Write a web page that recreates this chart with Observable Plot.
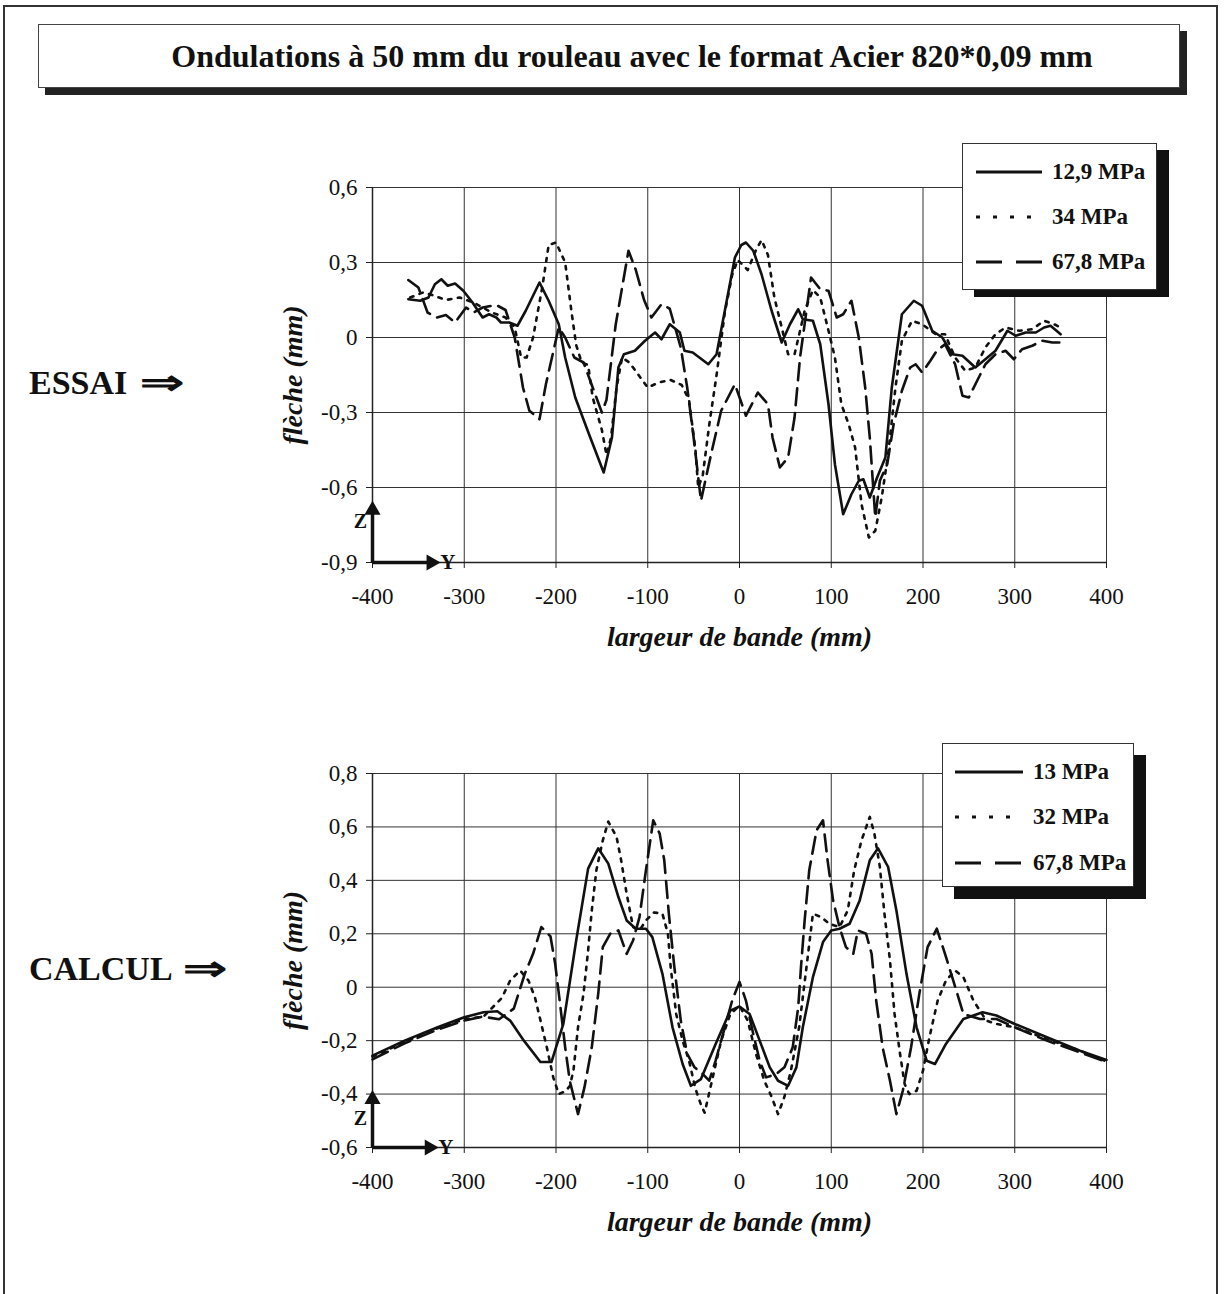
<!DOCTYPE html>
<html>
<head>
<meta charset="utf-8">
<script src="https://cdn.jsdelivr.net/npm/d3@7"></script>
<script src="https://cdn.jsdelivr.net/npm/@observablehq/plot@0.6"></script>
<style>
  html, body { margin: 0; padding: 0; background: #fff; }
  #page { position: relative; width: 1227px; height: 1294px; overflow: hidden; font-family: "Liberation Serif", "Times New Roman", serif; color: #111; }
  #outer { position: absolute; left: 3px; top: 5px; width: 1215px; height: 1320px; border: 2px solid #333; box-sizing: border-box; }
  #titlebox { position: absolute; left: 38px; top: 24px; width: 1142px; height: 64px; border: 1.5px solid #444; box-sizing: border-box; background: #fff; box-shadow: 7px 7px 0 #222; display: flex; align-items: center; justify-content: center; padding-left: 46px; font-weight: bold; font-size: 32px; }
  .side { position: absolute; left: 29px; font-weight: bold; font-size: 34px; white-space: nowrap; }
  .side .arr { display: inline-block; transform: scaleX(1.55); transform-origin: left center; margin-left: 4px; }
  .chart { position: absolute; left: 272px; }
  .legend { position: absolute; background: #fff; border: 1.5px solid #333; box-sizing: border-box; }
  .legend .row { position: absolute; left: 0; height: 30px; display: flex; align-items: center; font-weight: bold; font-size: 23px; white-space: nowrap; }
  .legend svg { display: block; margin-right: 10px; }
</style>
</head>
<body>
<div id="page">
  <div id="outer"></div>
  <div id="titlebox">Ondulations à 50 mm du rouleau avec le format Acier 820*0,09 mm</div>
  <div class="side" style="top:362px">ESSAI <span class="arr">⇒</span></div>
  <div class="side" style="top:948px">CALCUL <span class="arr">⇒</span></div>
  <div id="chartTop" class="chart" style="top:167px"></div>
  <div id="chartBottom" class="chart" style="top:753px"></div>
</div>
<script>
// ---------- tick labels ----------
const xTicks = [-400, -300, -200, -100, 0, 100, 200, 300, 400];
const yTicksEssai = [0.6, 0.3, 0, -0.3, -0.6, -0.9];
const yTicksCalcul = [0.8, 0.6, 0.4, 0.2, 0, -0.2, -0.4, -0.6];
const xLabel = "largeur de bande (mm)";
const yLabel = "flèche (mm)";

// ---------- series names ----------
const essaiNames = ["12,9 MPa", "34 MPa", "67,8 MPa"];
const calculNames = ["13 MPa", "32 MPa", "67,8 MPa"];

// ---------- ESSAI (measured) ----------
const essai_129 = [[-361,0.153],[-348,0.147],[-339,0.16],[-332,0.213],[-325,0.233],[-318,0.207],[-310,0.216],[-301,0.187],[-291,0.14],[-280,0.08],[-273,0.093],[-265,0.08],[-260,0.06],[-251,0.06],[-242,0.047],[-233,0.107],[-218,0.22],[-208,0.147],[-197,0.053],[-190,-0.08],[-179,-0.24],[-164,-0.387],[-148,-0.54],[-139,-0.4],[-132,-0.12],[-126,-0.067],[-114,-0.053],[-103,-0.013],[-92,0.02],[-85,-0.007],[-76,0.053],[-65,0.02],[-60,-0.053],[-51,-0.06],[-34,-0.107],[-25,-0.067],[-16,0.107],[-5,0.32],[2,0.37],[7,0.38],[15,0.347],[24,0.253],[35,0.107],[46,-0.02],[55,0.053],[64,0.113],[69,0.073],[80,0.067],[88,-0.027],[97,-0.267],[104,-0.507],[113,-0.707],[122,-0.627],[130,-0.573],[135,-0.567],[142,-0.64],[150,-0.56],[159,-0.48],[166,-0.2],[177,0.093],[190,0.147],[199,0.127],[210,0.027],[221,0],[232,-0.067],[243,-0.073],[257,-0.12],[268,-0.087],[279,-0.053],[292,0.027],[301,0.007],[312,0.02],[323,0.02],[332,0.04],[339,0.047],[350,0.013]];
const essai_34 = [[-359,0.16],[-345,0.18],[-335,0.17],[-320,0.15],[-305,0.16],[-290,0.14],[-280,0.12],[-270,0.1],[-255,0.08],[-245,0.04],[-238,-0.08],[-232,-0.08],[-225,0.0],[-215,0.2],[-208,0.37],[-200,0.38],[-190,0.3],[-183,0.1],[-178,-0.03],[-172,-0.1],[-165,-0.11],[-160,-0.24],[-150,-0.37],[-145,-0.47],[-140,-0.4],[-134,-0.2],[-128,-0.08],[-120,-0.1],[-110,-0.15],[-100,-0.2],[-88,-0.18],[-75,-0.17],[-63,-0.19],[-55,-0.25],[-48,-0.45],[-45,-0.6],[-40,-0.55],[-33,-0.35],[-25,-0.15],[-16,0.1],[-8,0.25],[-2,0.31],[9,0.27],[18,0.35],[24,0.39],[31,0.33],[38,0.16],[46,0.04],[53,-0.067],[60,-0.067],[66,0.027],[71,0.107],[80,0.19],[88,0.16],[97,0.027],[104,-0.08],[111,-0.267],[119,-0.347],[126,-0.44],[133,-0.667],[141,-0.8],[148,-0.773],[155,-0.64],[162,-0.467],[170,-0.2],[177,-0.013],[188,0.067],[199,0.053],[214,0.013],[224,0.013],[235,-0.08],[246,-0.133],[257,-0.12],[268,-0.04],[279,0.013],[290,0.04],[305,0.027],[319,0.033],[332,0.067],[343,0.053],[350,0.04]];
const essai_678 = [[-361,0.23],[-350,0.2],[-340,0.1],[-330,0.08],[-320,0.09],[-310,0.06],[-298,0.12],[-290,0.1],[-280,0.12],[-265,0.13],[-255,0.11],[-245,0.0],[-236,-0.2],[-229,-0.293],[-218,-0.327],[-211,-0.187],[-197,0.04],[-190,0.0],[-180,-0.08],[-170,-0.1],[-160,-0.2],[-150,-0.3],[-145,-0.25],[-135,0.05],[-121,0.347],[-113,0.27],[-104,0.15],[-96,0.08],[-85,0.133],[-76,0.115],[-64,-0.04],[-57,-0.2],[-50,-0.4],[-42,-0.653],[-31,-0.467],[-20,-0.293],[-5,-0.187],[7,-0.313],[20,-0.22],[31,-0.267],[36,-0.4],[44,-0.52],[53,-0.48],[60,-0.32],[66,-0.08],[73,0.107],[78,0.24],[88,0.193],[97,0.187],[106,0.08],[113,0.093],[122,0.147],[130,0],[137,-0.2],[142,-0.4],[148,-0.72],[153,-0.573],[161,-0.507],[168,-0.347],[177,-0.213],[186,-0.12],[192,-0.107],[199,-0.14],[208,-0.093],[215,-0.053],[224,-0.027],[235,-0.107],[243,-0.233],[250,-0.24],[259,-0.173],[268,-0.107],[279,-0.067],[290,-0.053],[299,-0.087],[308,-0.047],[319,-0.033],[330,-0.013],[341,-0.02],[350,-0.02]];

// ---------- CALCUL (computed) ----------
const calcul_13 = [[-400,-0.256],[-365,-0.2],[-329,-0.15],[-300,-0.1125],[-279,-0.094],[-264,-0.09],[-250,-0.125],[-235,-0.2],[-217,-0.28],[-205,-0.28],[-192,-0.1375],[-178,0.175],[-165,0.444],[-154,0.52],[-143,0.4625],[-132,0.3375],[-123,0.25],[-113,0.219],[-102,0.219],[-95,0.1875],[-84,0.05],[-73,-0.15],[-62,-0.2875],[-53,-0.369],[-42,-0.344],[-26,-0.2125],[-10,-0.0875],[0,-0.072],[11,-0.1],[22,-0.2],[33,-0.3],[42,-0.35],[53,-0.369],[62,-0.3],[69,-0.15],[80,0.0375],[91,0.169],[100,0.2125],[109,0.219],[120,0.2375],[131,0.325],[142,0.475],[151,0.52],[162,0.45],[171,0.2875],[182,0.05],[193,-0.15],[204,-0.275],[213,-0.2875],[225,-0.2125],[244,-0.119],[265,-0.094],[280,-0.106],[300,-0.1375],[335,-0.1875],[371,-0.2375],[400,-0.272]];
const calcul_32 = [[-400,-0.26],[-365,-0.205],[-330,-0.155],[-300,-0.12],[-279,-0.11],[-259,-0.04],[-250,0.025],[-239,0.0625],[-230,0.025],[-223,-0.0375],[-216,-0.1375],[-210,-0.225],[-203,-0.3375],[-197,-0.4],[-190,-0.39],[-185,-0.37],[-181,-0.3125],[-176,-0.15],[-170,-0.025],[-165,0.1375],[-161,0.2875],[-156,0.4375],[-149,0.55],[-143,0.62],[-134,0.5625],[-129,0.475],[-123,0.35],[-116,0.225],[-109,0.2125],[-102,0.25],[-93,0.28],[-84,0.275],[-78,0.2],[-75,0.075],[-69,-0.1],[-62,-0.2],[-55,-0.275],[-48,-0.38],[-42,-0.44],[-38,-0.47],[-30,-0.35],[-20,-0.2],[-10,-0.1],[0,-0.07],[9,-0.125],[18,-0.25],[27,-0.35],[35,-0.41],[42,-0.475],[49,-0.41],[56,-0.3125],[65,-0.15],[73,0.075],[80,0.275],[89,0.2625],[98,0.2375],[109,0.225],[118,0.2875],[125,0.4375],[133,0.55],[142,0.6375],[147,0.575],[153,0.45],[158,0.275],[164,0.1],[169,-0.1],[175,-0.25],[180,-0.3625],[185,-0.4],[193,-0.3875],[200,-0.3125],[207,-0.1875],[216,-0.05],[225,0.025],[235,0.0625],[244,0.0375],[255,-0.05],[269,-0.125],[280,-0.1375],[300,-0.15],[335,-0.194],[371,-0.2375],[400,-0.278]];
const calcul_678 = [[-400,-0.27],[-365,-0.21],[-330,-0.16],[-300,-0.125],[-280,-0.11],[-262,-0.12],[-246,-0.08],[-234,0.05],[-225,0.125],[-216,0.225],[-206,0.19],[-201,0.09],[-196,-0.05],[-190,-0.225],[-185,-0.35],[-176,-0.475],[-169,-0.375],[-161,-0.225],[-154,-0.025],[-149,0.15],[-141,0.2],[-132,0.2125],[-123,0.125],[-116,0.175],[-109,0.2625],[-102,0.4375],[-94,0.625],[-87,0.575],[-82,0.475],[-77,0.275],[-71,0.075],[-64,-0.125],[-57,-0.25],[-49,-0.3],[-40,-0.325],[-33,-0.35],[-26,-0.275],[-19,-0.1875],[-8,-0.05],[0,0.02],[7,-0.05],[15,-0.175],[22,-0.275],[29,-0.3375],[40,-0.325],[49,-0.3],[58,-0.225],[64,-0.075],[67,0.075],[71,0.25],[76,0.4375],[84,0.5875],[91,0.625],[96,0.475],[102,0.325],[109,0.225],[116,0.15],[124,0.125],[129,0.2125],[138,0.2],[144,0.125],[149,-0.05],[156,-0.225],[164,-0.35],[171,-0.475],[178,-0.3875],[187,-0.225],[196,-0.025],[205,0.15],[215,0.219],[224,0.125],[233,0.025],[244,-0.1],[262,-0.119],[280,-0.119],[300,-0.15],[335,-0.2],[371,-0.244],[400,-0.28]];

// ---------- Z / Y orientation annotation (data space) ----------
const axesEssai = {x0: -400, y0: -0.9, zTip: -0.69, yTip: -336, zText: -0.735, yText: -318};
const axesCalcul = {x0: -400, y0: -0.6, zTip: -0.42, yTip: -338, zText: -0.49, yText: -320};

// ---------- styles ----------
const dashes = [null, "3.5,6.5", "17,8"];

function fmt(d) { return String(d).replace(".", ","); }

function makeChart(series, names, yDomain, yTicks, ann) {
  const marks = [
    Plot.gridX(xTicks, {stroke: "#333", strokeOpacity: 1, strokeWidth: 1}),
    Plot.gridY(yTicks, {stroke: "#333", strokeOpacity: 1, strokeWidth: 1}),
    Plot.axisX(xTicks, {tickFormat: fmt, tickSize: 6, tickPadding: 19, stroke: "#222", label: null, fontSize: 23}),
    Plot.axisY(yTicks, {tickFormat: fmt, tickSize: 6, tickPadding: 9, stroke: "#222", label: null, fontSize: 23}),
    Plot.ruleY([yDomain[0]], {stroke: "#222", strokeWidth: 1.5}),
    Plot.ruleX([-400], {stroke: "#222", strokeWidth: 1.5})
  ];
  series.forEach((s, i) => {
    marks.push(Plot.line(s, {x: d => d[0], y: d => d[1], stroke: "#111", strokeWidth: 2.6,
      strokeDasharray: dashes[i] || undefined, strokeLinejoin: "round"}));
  });
  // orientation arrows
  marks.push(Plot.link([ann], {x1: d => d.x0, y1: d => d.y0, x2: d => d.x0, y2: d => d.zTip, stroke: "#111", strokeWidth: 3.5}));
  marks.push(Plot.link([ann], {x1: d => d.x0, y1: d => d.y0, x2: d => d.yTip, y2: d => d.y0, stroke: "#111", strokeWidth: 3.5}));
  marks.push(Plot.dot([ann], {x: d => d.x0, y: d => d.zTip, symbol: "triangle", r: 6, fill: "#111", stroke: "none"}));
  marks.push(Plot.dot([ann], {x: d => d.yTip, y: d => d.y0, symbol: "triangle", r: 6, fill: "#111", stroke: "none", rotate: 90}));
  marks.push(Plot.text([ann], {x: d => d.x0, y: d => d.zText, text: () => "Z", dx: -12, fontWeight: "bold", fontSize: 20, fill: "#111"}));
  marks.push(Plot.text([ann], {x: d => d.yText, y: d => d.y0, text: () => "Y", fontWeight: "bold", fontSize: 21, fill: "#111"}));
  // axis titles
  marks.push(Plot.text([xLabel], {frameAnchor: "bottom", dy: 83, text: d => d, fontWeight: "bold", fontStyle: "italic", fontSize: 28, fill: "#111"}));
  marks.push(Plot.text([yLabel], {frameAnchor: "left", textAnchor: "middle", dx: -79, rotate: -90, text: d => d, fontWeight: "bold", fontStyle: "italic", fontSize: 28, fill: "#111"}));

  return Plot.plot({
    width: 854,
    height: 20 + (yDomain[1] - yDomain[0] > 1.45 ? 375 : 374) + 100,
    marginLeft: 100, marginRight: 20, marginTop: 20, marginBottom: 100,
    style: {fontFamily: "Liberation Serif, Times New Roman, serif", fontSize: "23px", color: "#111", background: "transparent", overflow: "visible"},
    x: {domain: [-400, 400]},
    y: {domain: yDomain},
    marks
  });
}

document.getElementById("chartTop").append(makeChart([essai_129, essai_34, essai_678], essaiNames, [-0.9, 0.6], yTicksEssai, axesEssai));
document.getElementById("chartBottom").append(makeChart([calcul_13, calcul_32, calcul_678], calculNames, [-0.6, 0.8], yTicksCalcul, axesCalcul));

// ---------- legends ----------
function makeLegend(names, left, top, w, h, rowTops, lineX, lineW, shadow) {
  const page = document.getElementById("page");
  const box = document.createElement("div");
  box.className = "legend";
  Object.assign(box.style, {left: left + "px", top: top + "px", width: w + "px", height: h + "px", boxShadow: shadow});
  names.forEach((n, i) => {
    const row = document.createElement("div");
    row.className = "row";
    row.style.top = rowTops[i] + "px";
    row.style.left = lineX + "px";
    const svg = d3.create("svg").attr("width", lineW).attr("height", 10);
    svg.append("line").attr("x1", 0).attr("x2", lineW).attr("y1", 5).attr("y2", 5)
      .attr("stroke", "#111").attr("stroke-width", 3)
      .attr("stroke-dasharray", i === 1 ? "4,13" : i === 2 ? "26,14" : null);
    row.append(svg.node());
    const span = document.createElement("span");
    span.textContent = n;
    row.append(span);
    box.append(row);
  });
  page.append(box);
}
makeLegend(essaiNames, 962, 143, 195, 147, [13, 58, 103], 13, 66, "12px 7px 0 #111");
makeLegend(calculNames, 942, 743, 192, 144, [13, 58, 104], 12, 68, "12px 12px 0 #111");
</script>
</body>
</html>
